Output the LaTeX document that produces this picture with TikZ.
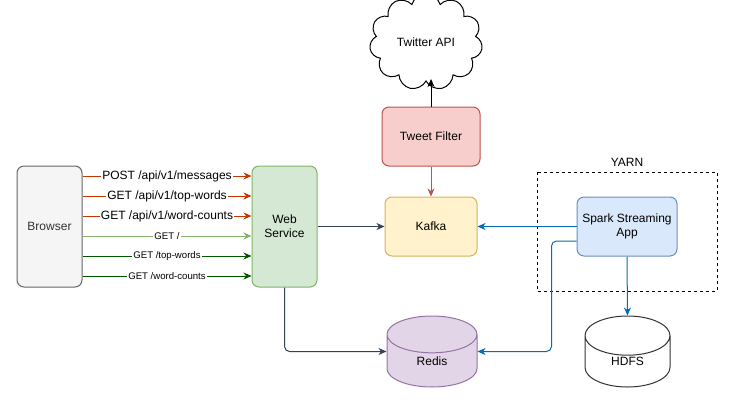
\documentclass[tikz,border=0pt]{standalone}
\usepackage{fontspec}
\setmainfont{Liberation Sans}
\usetikzlibrary{arrows.meta,shapes.geometric,shapes.symbols}
\definecolor{greyfill}{HTML}{F5F5F5}
\definecolor{greyline}{HTML}{666666}
\definecolor{greytext}{HTML}{333333}
\definecolor{webfill}{HTML}{D5E8D4}
\definecolor{webline}{HTML}{82B366}
\definecolor{tweetfill}{HTML}{F8CECC}
\definecolor{tweetline}{HTML}{B85450}
\definecolor{kafkafill}{HTML}{FFF2CC}
\definecolor{kafkaline}{HTML}{D6B656}
\definecolor{sparkfill}{HTML}{DAE8FC}
\definecolor{sparkline}{HTML}{6C8EBF}
\definecolor{redisfill}{HTML}{E1D5E7}
\definecolor{redisline}{HTML}{9673A6}
\definecolor{reqred}{HTML}{C73500}
\definecolor{reqdark}{HTML}{005700}
\definecolor{slate}{HTML}{314354}
\definecolor{linkblue}{HTML}{006EAF}
\begin{document}
\begin{tikzpicture}[x=1pt,y=-1pt,
	box/.style={draw,rounded corners=7pt,line width=1pt,inner sep=0pt,align=center,font=\fontsize{12}{14}\selectfont},
	db/.style={draw,cylinder,shape border rotate=90,aspect=1.2,anchor=shape center,line width=1pt,inner sep=0pt,font=\fontsize{12}{14}\selectfont},
	link/.style={line width=1pt,-{Stealth[length=8pt,width=7pt,inset=2.5pt]}},
	lbl/.style={fill=white,inner sep=1pt}]
	\useasboundingbox (0,0) rectangle (742,413);
	\node[box,fill=greyfill,draw=greyline,text=greytext,minimum width=65,minimum height=121] (browser) at (49.5,226.5) {Browser};
	\node[box,fill=webfill,draw=webline,minimum width=65,minimum height=121] (web) at (284.5,226.5) {Web\\Service};
	\node[box,fill=tweetfill,draw=tweetline,minimum width=98,minimum height=59] (tweet) at (431,136.5) {Tweet Filter};
	\node[box,fill=kafkafill,draw=kafkaline,minimum width=92,minimum height=59] (kafka) at (431,226.5) {Kafka};
	\node[box,fill=sparkfill,draw=sparkline,minimum width=100,minimum height=59] (spark) at (627,226.5) {Spark Streaming\\App};
	\node[db,fill=redisfill,draw=redisline,minimum width=90,minimum height=71] (redis) at (432,351.5) {Redis};
	\node[db,fill=white,draw=black!80,minimum width=85,minimum height=71] (hdfs) at (627.5,351.5) {HDFS};
	\node[cloud,draw,fill=white,cloud puffs=11,line width=1pt,minimum width=113,minimum height=70,inner sep=0pt,font=\fontsize{12}{14}\selectfont] (twitter) at (426,42) {Twitter API};
	% yarn
	\draw[dash pattern=on 3pt off 3pt,line width=1pt] (537,172) rectangle (717,291);
	\node[font=\fontsize{12}{14}\selectfont] (yarn) at (627,162) {YARN};

	\foreach \y/\txt/\col/\fs in {176/{POST /api/v1/messages}/reqred/12,196/{GET /api/v1/top-words}/reqred/12,216/{GET /api/v1/word-counts}/reqred/12,236/{GET /}/webline/9.6,256/{GET /top-words}/reqdark/9.6,276/{GET /word-counts}/reqdark/9.6} {
		\draw[link,draw=\col] (browser.east |- 0,\y) -- node[lbl,font=\fontsize{\fs}{\fs}\selectfont]{\txt} (web.west |- 0,\y);
	}
	\draw[link] (tweet.north) -- ([yshift=3pt]tweet.north |- twitter.south);
	\draw[link,draw=tweetline] (tweet) -- (kafka);
	\draw[link,draw=slate] (web) -- (kafka);
	\draw[link,draw=slate,rounded corners=5pt] (web.south) |- (redis.west |- redis.shape center);
	\draw[link,draw=linkblue] (spark) -- (kafka);
	\draw[link,draw=linkblue,rounded corners=5pt] (spark.west |- 0,241) -- ++(-25,0) |- (redis.east |- redis.shape center);
	\draw[link,draw=linkblue] (spark.south) -- (hdfs.north);
\end{tikzpicture}
\end{document}
